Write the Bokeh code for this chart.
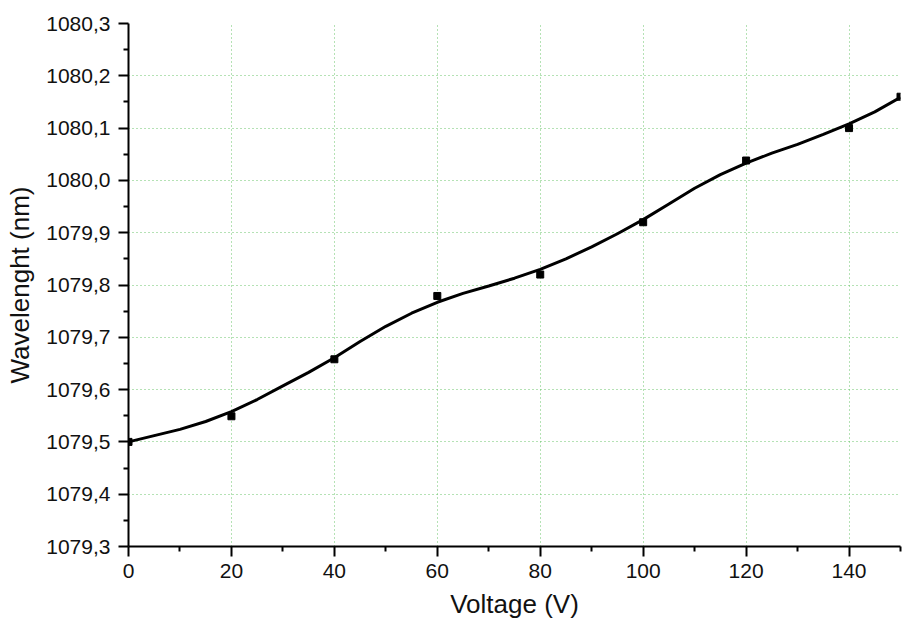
from bokeh.plotting import figure
from bokeh.models import Range1d, FixedTicker, CustomJSTickFormatter
from bokeh.embed import file_html
from bokeh.resources import INLINE

# measured data points
voltage = [0, 20, 40, 60, 80, 100, 120, 140, 150]
wavelength = [1079.50, 1079.549, 1079.658, 1079.779, 1079.82, 1079.92, 1080.038, 1080.10, 1080.16]

# fitted curve, every 5 V
fit_v = [0, 5, 10, 15, 20, 25, 30, 35, 40, 45, 50, 55, 60, 65, 70, 75,
         80, 85, 90, 95, 100, 105, 110, 115, 120, 125, 130, 135, 140, 145, 150]
fit_w = [1079.500, 1079.512, 1079.524, 1079.539, 1079.558, 1079.581, 1079.607, 1079.633,
         1079.661, 1079.692, 1079.721, 1079.746, 1079.767, 1079.784, 1079.798, 1079.813,
         1079.830, 1079.850, 1079.873, 1079.898, 1079.925, 1079.955, 1079.985, 1080.011,
         1080.033, 1080.052, 1080.069, 1080.088, 1080.108, 1080.131, 1080.159]

x_ticks = [0, 20, 40, 60, 80, 100, 120, 140]
x_minor = [10, 30, 50, 70, 90, 110, 130, 150]
y_ticks = [1079.3, 1079.4, 1079.5, 1079.6, 1079.7, 1079.8, 1079.9, 1080.0, 1080.1, 1080.2, 1080.3]
y_minor = [1079.35, 1079.45, 1079.55, 1079.65, 1079.75, 1079.85, 1079.95, 1080.05, 1080.15, 1080.25]
x_grid = [20, 40, 60, 80, 100, 120, 140]
y_grid = [1079.4, 1079.5, 1079.6, 1079.7, 1079.8, 1079.9, 1080.0, 1080.1, 1080.2]

FONT = "Liberation Sans"

p = figure(width=917, height=631, output_backend="svg", toolbar_location=None,
           x_range=Range1d(0, 150), y_range=Range1d(1079.3, 1080.3),
           min_border_left=128, min_border_right=17, min_border_top=23, min_border_bottom=85)
p.outline_line_color = None
p.background_fill_color = "white"
p.border_fill_color = "white"

fmt = CustomJSTickFormatter(code="""
    if (Math.abs(tick) >= 1000) { return tick.toFixed(1).replace('.', ','); }
    return tick.toFixed(0);
""")

for ax, ticks, minor in ((p.xaxis[0], x_ticks, x_minor), (p.yaxis[0], y_ticks, y_minor)):
    ax.ticker = FixedTicker(ticks=ticks, minor_ticks=minor)
    ax.formatter = fmt
    ax.axis_line_width = 2
    ax.axis_line_color = "black"
    ax.major_tick_line_width = 2
    ax.minor_tick_line_width = 2
    ax.major_tick_out = 10
    ax.major_tick_in = 0
    ax.minor_tick_out = 5
    ax.minor_tick_in = 0
    ax.major_label_text_font = FONT
    ax.major_label_text_font_size = "21px"
    ax.major_label_text_color = "#111111"
    ax.axis_label_text_font = FONT
    ax.axis_label_text_font_size = "26px"
    ax.axis_label_text_font_style = "normal"
    ax.axis_label_text_color = "#111111"

p.xaxis[0].axis_label = "Voltage (V)"
p.yaxis[0].axis_label = "Wavelenght (nm)"
p.xaxis[0].major_label_standoff = 7
p.yaxis[0].major_label_standoff = 8
p.xaxis[0].axis_label_standoff = 8
p.yaxis[0].axis_label_standoff = 8

p.xgrid[0].ticker = FixedTicker(ticks=x_grid)
p.ygrid[0].ticker = FixedTicker(ticks=y_grid)
for g in (p.xgrid[0], p.ygrid[0]):
    g.grid_line_color = "#5cc05c"
    g.grid_line_dash = "1 3"
    g.grid_line_width = 1
    g.grid_line_alpha = 0.9

p.line(fit_v, fit_w, line_color="black", line_width=3)
p.scatter(voltage, wavelength, marker="square", size=7, color="black")

open("out.html", "w").write(file_html(p, INLINE))
